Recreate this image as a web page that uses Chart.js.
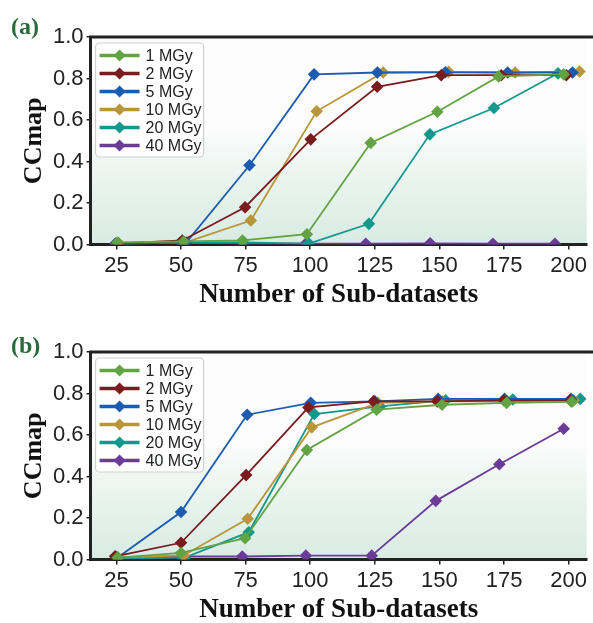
<!DOCTYPE html>
<html>
<head>
<meta charset="utf-8">
<script src="https://cdn.jsdelivr.net/npm/chart.js@4.4.1/dist/chart.umd.min.js"></script>
<style>
	body { margin: 0; background: #fff; width: 593px; height: 623px; overflow: hidden; position: relative; }
	.panel { position: absolute; left: 0; width: 593px; height: 309px; }
	#panelA { top: 0; }
	#panelB { top: 315px; }
	.tag { position: absolute; left: 11px; font: bold 24px "Liberation Serif", "Times New Roman", serif; color: #2a6b3d; line-height: 1; }
</style>
</head>
<body>
<div class="panel" id="panelA"><canvas id="chartA"></canvas></div>
<div class="panel" id="panelB"><canvas id="chartB"></canvas></div>
<div class="tag" style="top:14px">(a)</div>
<div class="tag" style="top:333px">(b)</div>
<script>
// ===================
// Data
// ===================

var seriesLabels = ['1 MGy', '2 MGy', '5 MGy', '10 MGy', '20 MGy', '40 MGy'];
var xTicks = [25, 50, 75, 100, 125, 150, 175, 200];
var yTicks = [0, 0.2, 0.4, 0.6, 0.8, 1.0];

// panel (a) - markers are drawn slightly offset from the tick, so x is kept per series
var a1MGyX  = [25.5, 51, 73.8, 98.7, 123.4, 149.2, 172.9, 198.1];
var a1MGyY  = [0.01, 0.015, 0.02, 0.05, 0.49, 0.64, 0.81, 0.82];
var a2MGyX  = [25.5, 50.5, 74.8, 100.2, 125.9, 150.7, 173.9, 199.1];
var a2MGyY  = [0.005, 0.02, 0.18, 0.507, 0.76, 0.816, 0.816, 0.816];
var a5MGyX  = [25.5, 52, 76.5, 101.5, 126, 152.3, 176.4, 201.5];
var a5MGyY  = [0.005, 0.01, 0.382, 0.82, 0.829, 0.83, 0.829, 0.829];
var a10MGyX = [26, 51.5, 77, 102.5, 128.2, 153.6, 179.3, 204.2];
var a10MGyY = [0.005, 0.01, 0.116, 0.642, 0.829, 0.832, 0.829, 0.834];
var a20MGyX = [25, 50.5, 74, 99.5, 122.7, 146.3, 171.1, 195.9];
var a20MGyY = [0.005, 0.01, 0.01, 0.005, 0.10, 0.531, 0.658, 0.825];
var a40MGyX = [24.6, 49.7, 74, 98.3, 121.5, 146.4, 170.7, 194.7];
var a40MGyY = [0.005, 0.01, 0.005, 0.005, 0.004, 0.006, 0.004, 0.004];

// panel (b)
var b1MGyX  = [25.5, 50, 74.8, 98.7, 125.7, 151, 176, 201.2];
var b1MGyY  = [0.01, 0.032, 0.103, 0.528, 0.722, 0.746, 0.755, 0.76];
var b2MGyX  = [24.5, 50, 75.2, 99.3, 124.5, 149.2, 175, 200.7];
var b2MGyY  = [0.016, 0.081, 0.407, 0.733, 0.762, 0.762, 0.767, 0.767];
var b5MGyX  = [25.5, 50, 75.6, 100.2, 125, 149.5, 175.2, 200.9];
var b5MGyY  = [0.01, 0.229, 0.698, 0.755, 0.762, 0.774, 0.774, 0.774];
var b10MGyX = [25.5, 51, 75.8, 100.6, 126.2, 151.1, 176.1, 201.9];
var b10MGyY = [0.01, 0.02, 0.197, 0.637, 0.755, 0.762, 0.762, 0.767];
var b20MGyX = [25.5, 51.5, 76.2, 101.6, 127, 152.4, 178.4, 204.5];
var b20MGyY = [0.005, 0.01, 0.132, 0.701, 0.738, 0.767, 0.771, 0.774];
var b40MGyX = [25, 50, 73.7, 98.3, 123.8, 148.6, 173.2, 198.1];
var b40MGyY = [0.01, 0.015, 0.015, 0.019, 0.019, 0.283, 0.459, 0.630];

var seriesColors = ['#62a343', '#7a1b1d', '#1b5cb2', '#b8963a', '#12988c', '#6a3c98'];

// ===================
// Helpers
// ===================

function pts(xs, ys) {
	return xs.map(function (x, i) { return { x: x, y: ys[i] }; });
}

function makeDatasets(xsList, ysList) {
	return seriesLabels.map(function (label, i) {
		return {
			label: label,
			data: pts(xsList[i], ysList[i]),
			borderColor: seriesColors[i],
			backgroundColor: seriesColors[i],
			borderWidth: 1.8,
			pointStyle: 'rectRot',
			pointRadius: 6.3,
			pointBorderWidth: 0,
			tension: 0
		};
	});
}

// soft white -> mint background inside the plot
var bgPlugin = {
	id: 'bg',
	beforeDraw: function (chart) {
		var a = chart.chartArea, c = chart.ctx;
		var g = c.createLinearGradient(0, a.top, 0, a.bottom);
		g.addColorStop(0, '#fcfcfc');
		g.addColorStop(0.45, '#fbfcfb');
		g.addColorStop(0.62, '#eef6f2');
		g.addColorStop(1, '#d8ebe3');
		c.save();
		c.fillStyle = g;
		c.fillRect(a.left, a.top, a.right - a.left, a.bottom - a.top);
		c.restore();
	}
};

// top frame line + legend box inside the plot
var framePlugin = {
	id: 'frame',
	afterDraw: function (chart) {
		var a = chart.chartArea, c = chart.ctx;
		c.save();
		c.strokeStyle = '#222';
		c.lineWidth = 3;
		c.beginPath();
		c.moveTo(a.left - 1.5, a.top);
		c.lineTo(chart.width, a.top);
		c.stroke();

		// legend
		var bx = a.left + 5, by = a.top + 6, bw = 108, bh = 114;
		c.fillStyle = 'rgba(255,255,255,0.9)';
		c.strokeStyle = '#cfcfcf';
		c.lineWidth = 1.2;
		c.beginPath();
		c.roundRect(bx, by, bw, bh, 4);
		c.fill();
		c.stroke();
		c.font = '16px "Liberation Sans", Arial, sans-serif';
		c.textBaseline = 'middle';
		chart.data.datasets.forEach(function (ds, i) {
			var y = by + 12.5 + i * 18;
			c.strokeStyle = ds.borderColor;
			c.lineWidth = 3.5;
			c.beginPath();
			c.moveTo(bx + 4, y);
			c.lineTo(bx + 44, y);
			c.stroke();
			c.fillStyle = ds.borderColor;
			c.beginPath();
			c.moveTo(bx + 24, y - 6);
			c.lineTo(bx + 30, y);
			c.lineTo(bx + 24, y + 6);
			c.lineTo(bx + 18, y);
			c.closePath();
			c.fill();
			c.fillStyle = '#222';
			c.fillText(ds.label, bx + 50, y + 1);
		});
		c.restore();
	}
};

function makeChart(id, datasets) {
	var ctx = document.getElementById(id).getContext('2d');
	return new Chart(ctx, {
		type: 'line',
		data: { datasets: datasets },
		plugins: [bgPlugin, framePlugin],
		options: {
			responsive: true,
			maintainAspectRatio: false,
			animation: false,
			layout: { padding: { left: 21, right: 0, top: 37, bottom: 0 } },
			plugins: {
				legend: { display: false },
				tooltip: { enabled: false }
			},
			scales: {
				x: {
					type: 'linear',
					min: 15,
					max: 207,
					afterBuildTicks: function (axis) {
						axis.ticks = xTicks.map(function (v) { return { value: v }; });
					},
					grid: { display: true, drawOnChartArea: false, tickLength: 5, color: '#222', lineWidth: 1.5 },
					border: { display: true, color: '#222', width: 3 },
					ticks: {
						color: '#222',
						padding: 3,
						maxRotation: 0,
						font: { family: '"Liberation Sans", Arial, sans-serif', size: 22 }
					},
					title: {
						display: true,
						text: 'Number of Sub-datasets',
						color: '#111',
						padding: { top: 0, bottom: 0 },
						font: { family: '"Liberation Serif", "Times New Roman", serif', size: 27, weight: 'bold', lineHeight: 1 }
					}
				},
				y: {
					min: 0,
					max: 1,
					afterBuildTicks: function (axis) {
						axis.ticks = yTicks.map(function (v) { return { value: v }; });
					},
					grid: { display: true, drawOnChartArea: false, tickLength: 4, color: '#222', lineWidth: 1.5 },
					border: { display: true, color: '#222', width: 3 },
					ticks: {
						color: '#222',
						padding: 3,
						callback: function (v) { return v.toFixed(1); },
						font: { family: '"Liberation Sans", Arial, sans-serif', size: 22 }
					},
					title: {
						display: true,
						text: 'CCmap',
						color: '#111',
						padding: { top: 0, bottom: 3 },
						font: { family: '"Liberation Serif", "Times New Roman", serif', size: 26, weight: 'bold', lineHeight: 1 }
					}
				}
			}
		}
	});
}

// ===================
// Panel (a)
// ===================

makeChart('chartA', makeDatasets(
	[a1MGyX, a2MGyX, a5MGyX, a10MGyX, a20MGyX, a40MGyX],
	[a1MGyY, a2MGyY, a5MGyY, a10MGyY, a20MGyY, a40MGyY]
));

// ===================
// Panel (b)
// ===================

makeChart('chartB', makeDatasets(
	[b1MGyX, b2MGyX, b5MGyX, b10MGyX, b20MGyX, b40MGyX],
	[b1MGyY, b2MGyY, b5MGyY, b10MGyY, b20MGyY, b40MGyY]
));
</script>
</body>
</html>
